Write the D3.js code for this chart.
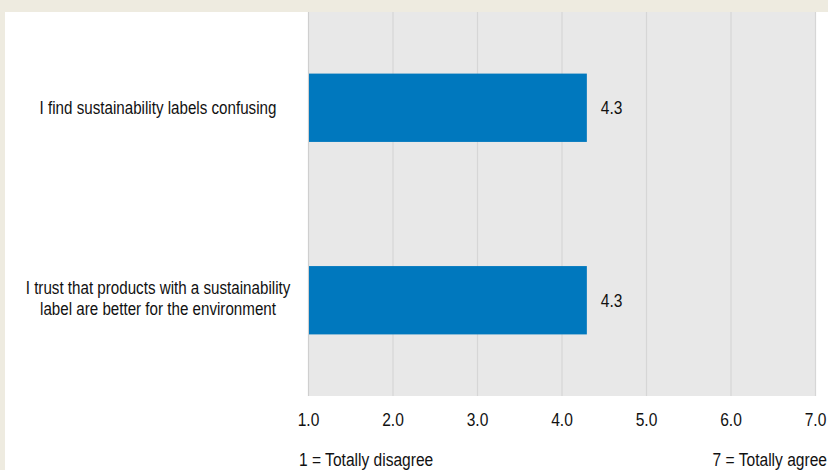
<!DOCTYPE html>
<html>
<head>
<meta charset="utf-8">
<script src="https://cdn.jsdelivr.net/npm/d3@7"></script>
<style>
  html, body { margin: 0; padding: 0; background: #eeebe0; }
  svg { display: block; }
  text { font-family: "Liberation Sans", Arial, sans-serif; fill: #111; }
</style>
</head>
<body>
<svg id="chart" width="828" height="470"></svg>
<script>
// Survey statements and mean agreement scores (1–7 scale)
const categories = [
  ["I find sustainability labels confusing"],
  ["I trust that products with a sustainability", "label are better for the environment"]
];
const values = [4.3, 4.3];
const tickValues = [1, 2, 3, 4, 5, 6, 7];
const scaleNotes = ["1 = Totally disagree", "7 = Totally agree"];

const W = 828, H = 470;
const panel = { x: 5, y: 12 };
const plot = { left: 308, right: 815, top: 12, bottom: 396 };
const FS = 19;        // base font size
const NARROW = 0.82;  // horizontal condensing of the lettering

const svg = d3.select("#chart");

// draws a condensed text label centred vertically on y (one <text> per line)
function label(parent, x, y, lines, anchor, lineGap, fs) {
  const size = fs || FS;
  const first = y - (lines.length - 1) * lineGap * size / 2 - (lines.length - 1) * 2;
  lines.forEach((ln, j) => {
    parent.append("text")
      .attr("transform", `translate(${x},${first + j * lineGap * size}) scale(${NARROW},1)`)
      .attr("text-anchor", anchor || "start")
      .attr("font-size", size)
      .attr("dy", "0.35em")
      .text(ln);
  });
}

// beige frame and white panel
svg.append("rect").attr("width", W).attr("height", H).attr("fill", "#eeebe0");
svg.append("rect").attr("x", panel.x).attr("y", panel.y)
  .attr("width", W - panel.x).attr("height", H - panel.y).attr("fill", "#ffffff");

const x = d3.scaleLinear().domain([1, 7]).range([plot.left, plot.right]);
const y = d3.scaleBand().domain(d3.range(categories.length))
  .range([plot.top, plot.bottom]).paddingInner(0.645).paddingOuter(0.32);

// plot background
svg.append("rect").attr("x", plot.left).attr("y", plot.top)
  .attr("width", plot.right - plot.left).attr("height", plot.bottom - plot.top)
  .attr("fill", "#e8e8e8");

// vertical gridlines
svg.append("g").selectAll("line").data(tickValues).join("line")
  .attr("x1", d => x(d) + 0.5).attr("x2", d => x(d) + 0.5)
  .attr("y1", plot.top).attr("y2", plot.bottom)
  .attr("stroke", d => d === 1 ? "#cfcfcf" : "#d6d6d6").attr("stroke-width", 1.2);

// bars
svg.append("g").selectAll("rect").data(values).join("rect")
  .attr("x", x(1) + 1).attr("y", (d, i) => y(i))
  .attr("width", d => x(d) - x(1) - 1).attr("height", y.bandwidth())
  .attr("fill", "#0078be");

// value labels
const valG = svg.append("g");
values.forEach((v, i) => label(valG, x(v) + 14, y(i) + y.bandwidth() / 2, [v.toFixed(1)], "start", 1.0));

// category labels
const catG = svg.append("g");
categories.forEach((lines, i) => label(catG, 158, y(i) + y.bandwidth() / 2, lines, "middle", 1.12, 18.5));

// x axis tick labels
const axis = d3.axisBottom(x).tickValues(tickValues).tickFormat(d3.format(".1f")).tickSize(0).tickPadding(0);
const ax = svg.append("g").attr("transform", `translate(0, ${plot.bottom + 23})`).call(axis);
ax.select(".domain").remove();
ax.attr("font-family", null).attr("font-size", null);
ax.selectAll("text")
  .attr("font-size", FS).attr("fill", "#111").attr("dy", "0.35em").attr("y", 0).attr("x", 0)
  .attr("text-anchor", "middle")
  .attr("transform", `scale(${NARROW},1)`);

// scale notes
const noteG = svg.append("g");
label(noteG, 299, 459, [scaleNotes[0]], "start", 1.0);
label(noteG, 827, 459, [scaleNotes[1]], "end", 1.0);
</script>
</body>
</html>
